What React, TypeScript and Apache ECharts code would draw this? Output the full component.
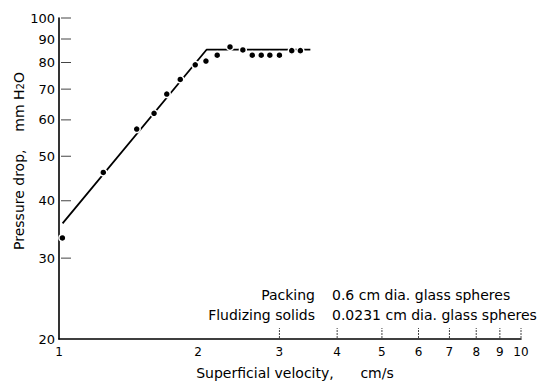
import React, { useEffect, useRef } from "react";
import * as echarts from "echarts";

const velocity = [1.017, 1.247, 1.473, 1.606, 1.711, 1.83, 1.972, 2.08, 2.2, 2.345, 2.5, 2.62, 2.74, 2.86, 3.0, 3.19, 3.33];
const pressure = [33.2, 46.1, 57.3, 62.0, 68.3, 73.5, 79.1, 80.6, 83.0, 86.5, 85.2, 83.0, 83.0, 83.0, 83.0, 84.9, 84.9];
const fitVelocity = [1.018, 2.086, 3.5];
const fitPressure = [35.7, 85.3, 85.3];
const xTickLabels = [1, 2, 3, 4, 5, 6, 7, 8, 9, 10];
const xTickMarks = [3, 4, 5, 6, 7, 8, 9, 10];
const yTickLabels = [20, 30, 40, 50, 60, 70, 80, 90, 100];
const yTickMarks = [30, 40, 50, 60, 70, 80, 90, 100];
const xTitle = "Superficial velocity,      cm/s";
const yTitleMain = "Pressure drop,    mm H";
const yTitleSub = "2";
const yTitleEnd = "O";
const noteLabels = ["Packing", "Fludizing solids"];
const noteValues = ["0.6 cm dia. glass spheres", "0.0231 cm dia. glass spheres"];

const FONT = "DejaVu Sans";

export default function App() {
  const ref = useRef<HTMLDivElement>(null);
  useEffect(() => {
    if (!ref.current) return;
    const chart = echarts.init(ref.current, undefined, { renderer: "svg" });
    chart.setOption({
      animation: false,
      backgroundColor: "#fff",
      grid: { left: 59, right: 22, top: 18, bottom: 44 },
      xAxis: {
        type: "log",
        logBase: 10,
        min: 1,
        max: 10,
        axisLine: { lineStyle: { color: "#000", width: 1.6 } },
        axisTick: { show: false },
        axisLabel: { show: false },
        splitLine: { show: false },
      },
      yAxis: {
        type: "log",
        logBase: 10,
        min: 20,
        max: 100,
        axisLine: { show: true, lineStyle: { color: "#000", width: 1.6 } },
        axisTick: { show: false },
        axisLabel: { show: false },
        splitLine: { show: false },
      },
      series: [
        {
          type: "line",
          data: fitVelocity.map((v, i) => [v, fitPressure[i]]),
          symbol: "none",
          lineStyle: { color: "#000", width: 1.8 },
          z: 2,
        },
        {
          type: "scatter",
          data: velocity.map((v, i) => [v, pressure[i]]),
          symbol: "circle",
          symbolSize: 7,
          itemStyle: { color: "#000", borderColor: "#fff", borderWidth: 1.5, opacity: 1 },
          z: 3,
        },
      ],
    });

    const px = (x: number, y: number) => chart.convertToPixel({ gridIndex: 0 }, [x, y]) as number[];
    const [x0, y0] = px(1, 20);
    const graphics: any[] = [];
    xTickLabels.forEach((v) => {
      const [x] = px(v, 20);
      graphics.push({
        type: "text",
        x,
        y: y0 + 7,
        style: { text: String(v), font: `12px "${FONT}"`, fill: "#000", textAlign: "center", textVerticalAlign: "top" },
      });
    });
    xTickMarks.forEach((v) => {
      const [x] = px(v, 20);
      graphics.push({
        type: "line",
        shape: { x1: x, y1: y0 - 1, x2: x, y2: y0 - 11 },
        style: { stroke: "#444", lineWidth: 1, lineDash: [2, 1] },
      });
    });
    yTickLabels.forEach((v) => {
      const [, y] = px(1, v);
      graphics.push({
        type: "text",
        x: x0 - 4,
        y,
        style: { text: String(v), font: `13px "${FONT}"`, fill: "#000", textAlign: "right", textVerticalAlign: "middle" },
      });
    });
    yTickMarks.forEach((v) => {
      const [, y] = px(1, v);
      graphics.push({
        type: "line",
        shape: { x1: x0 + 2, y1: y, x2: x0 + 12, y2: y },
        style: { stroke: "#444", lineWidth: 1 },
      });
    });
    graphics.push({
      type: "text",
      x: 295,
      y: 373,
      style: { text: xTitle, font: `14px "${FONT}"`, fill: "#000", textAlign: "center", textVerticalAlign: "middle" },
    });
    graphics.push({
      type: "text",
      x: 18,
      y: 161,
      rotation: Math.PI / 2,
      style: {
        text: `{a|${yTitleMain}}{s|${yTitleSub}}{a|${yTitleEnd}}`,
        textAlign: "center",
        textVerticalAlign: "middle",
        fill: "#000",
        rich: {
          a: { fontSize: 14, fontFamily: FONT, fill: "#000", verticalAlign: "bottom" },
          s: { fontSize: 10, fontFamily: FONT, fill: "#000", verticalAlign: "bottom", padding: [5, 0, 0, 0] },
        },
      },
    });
    noteLabels.forEach((t, i) => {
      const y = 295 + i * 20;
      graphics.push({
        type: "text",
        x: 315,
        y,
        style: { text: t, font: `14px "${FONT}"`, fill: "#000", textAlign: "right", textVerticalAlign: "middle" },
      });
      graphics.push({
        type: "text",
        x: 332,
        y,
        style: { text: noteValues[i], font: `14px "${FONT}"`, fill: "#000", textAlign: "left", textVerticalAlign: "middle" },
      });
    });
    chart.setOption({ graphic: graphics });
    return () => chart.dispose();
  }, []);
  return <div ref={ref} style={{ width: 543, height: 383, position: "absolute", left: 0, top: 0 }} />;
}
